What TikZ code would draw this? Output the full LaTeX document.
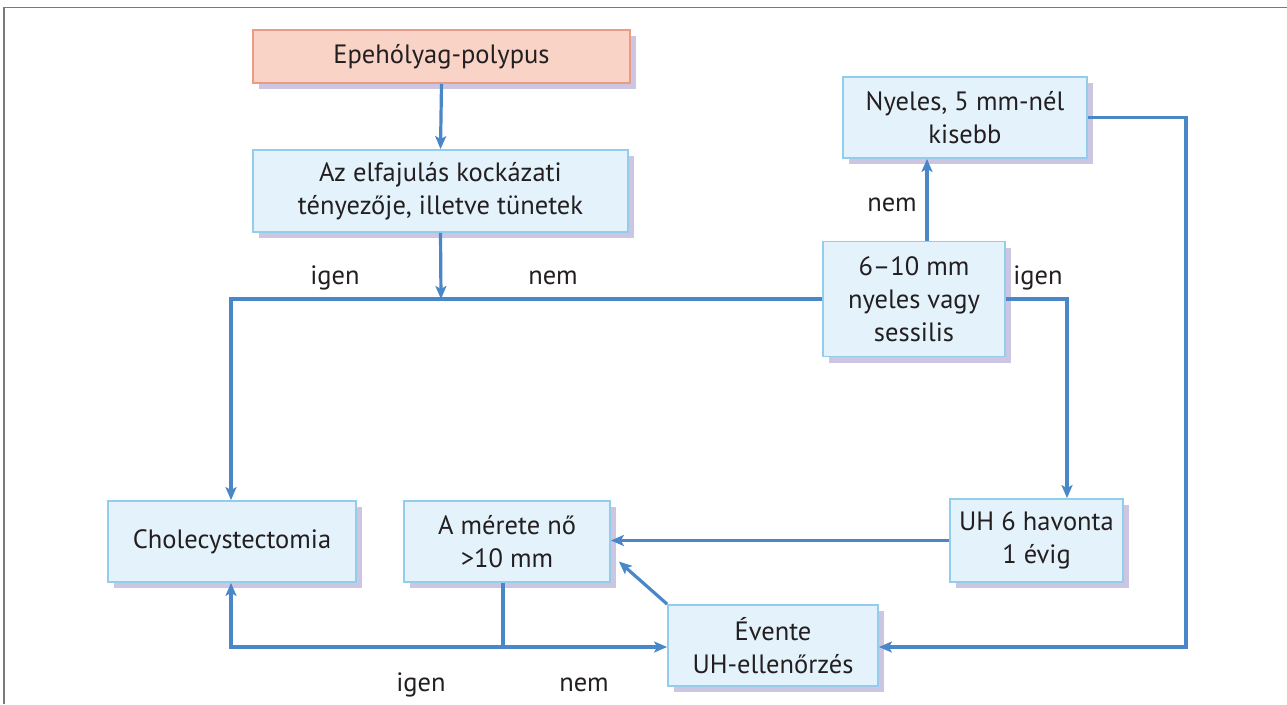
\documentclass[tikz,border=0pt]{standalone}
\usepackage{fontspec}
\setmainfont{PT Sans}
\usetikzlibrary{arrows.meta}
\definecolor{boxfill}{HTML}{E4F2FC}
\definecolor{boxline}{HTML}{93CDEB}
\definecolor{shadowc}{HTML}{CCC6E2}
\definecolor{pinkfill}{HTML}{F9D4C6}
\definecolor{pinkline}{HTML}{EA9B86}
\definecolor{linec}{HTML}{4A87C9}
\definecolor{txt}{HTML}{231F20}
\definecolor{framec}{HTML}{7A7A7A}
\tikzset{
  bx/.style={draw=boxline, fill=boxfill, line width=1.8, inner sep=0pt, align=center,
    text=txt, font=\fontsize{26.5}{33}\selectfont,
    preaction={draw=none, fill=shadowc, transform canvas={shift={(6pt,-6pt)}}}},
  pinkbx/.style={bx, draw=pinkline, fill=pinkfill},
  conn/.style={draw=linec, line width=3.2},
  arr/.style={conn, -{Stealth[length=13pt,width=11pt,inset=3pt]}},
  lbl/.style={text=txt, font=\fontsize{26.5}{33}\selectfont, inner sep=0pt},
}
\begin{document}
\begin{tikzpicture}[x=1pt,y=-1pt]
\useasboundingbox (0,0) rectangle (1287,704);
\fill[white] (0,0) rectangle (1287,704);
% frame
\draw[framec, line width=1.8] (4,704) -- (4,7.5) -- (1287,7.5);

% boxes
\node[pinkbx, minimum width=377, minimum height=53] (top) at (441.5,56.5) {Epehólyag-polypus};
\node[bx, minimum width=375, minimum height=82] (risk) at (440.5,191) {Az elfajulás kockázati\\tényezője, illetve tünetek};
\node[bx, minimum width=244, minimum height=81] (nyeles) at (965,117.5) {Nyeles, 5 mm-nél\\kisebb};
\node[bx, minimum width=182, minimum height=115] (mid) at (914,299) {6–10 mm\\nyeles vagy\\sessilis};
\node[bx, minimum width=248, minimum height=81] (chole) at (232,541.5) {Cholecystectomia};
\node[bx, minimum width=206, minimum height=81] (merete) at (507,541.5) {A mérete nő\\>10 mm};
\node[bx, minimum width=173, minimum height=83] (uh6) at (1036.5,540.5) {UH 6 havonta\\1 évig};
\node[bx, minimum width=210, minimum height=81] (evente) at (773,645.5) {Évente\\UH-ellenőrzés};

% helper coordinates
\coordinate (jtop) at (441,299);
\coordinate (cleft) at (231,299);
\coordinate (cx927) at (927,0);
\coordinate (cright) at (1067,299);
\coordinate (cfar) at (1186,0);
\coordinate (jbot) at (503,647);
\coordinate (cbl) at (231,647);

% connectors
\draw[arr] (top.south) -- (risk.north);
\draw[arr] (risk.south) -- (jtop);
\draw[arr] (mid.west) -- (cleft) -- (chole.north -| cleft);
\draw[arr] (mid.north -| cx927) -- (nyeles.south -| cx927);
\draw[arr] (mid.east) -- (cright) -- (uh6.north -| cright);
\draw[arr] (nyeles.east) -| (cfar |- jbot) -- (evente.east |- jbot);
\draw[arr] (uh6.west) -- (merete.east |- uh6.west);
\draw[arr] (evente.north west) -- ([xshift=8pt,yshift=-20pt]merete.east);
\draw[conn] (merete.south -| jbot) -- (jbot);
\draw[arr] (jbot) -- (evente.west |- jbot);
\draw[arr] (jbot) -- (cbl) -- (chole.south -| cbl);

% labels
\node[lbl] (l1) at (335,278) {igen};
\node[lbl] (l2) at (553,278) {nem};
\node[lbl] (l3) at (892,205) {nem};
\node[lbl] (l4) at (1038,278) {igen};
\node[lbl] (l5) at (421,685) {igen};
\node[lbl] (l6) at (584,685) {nem};
\end{tikzpicture}
\end{document}
